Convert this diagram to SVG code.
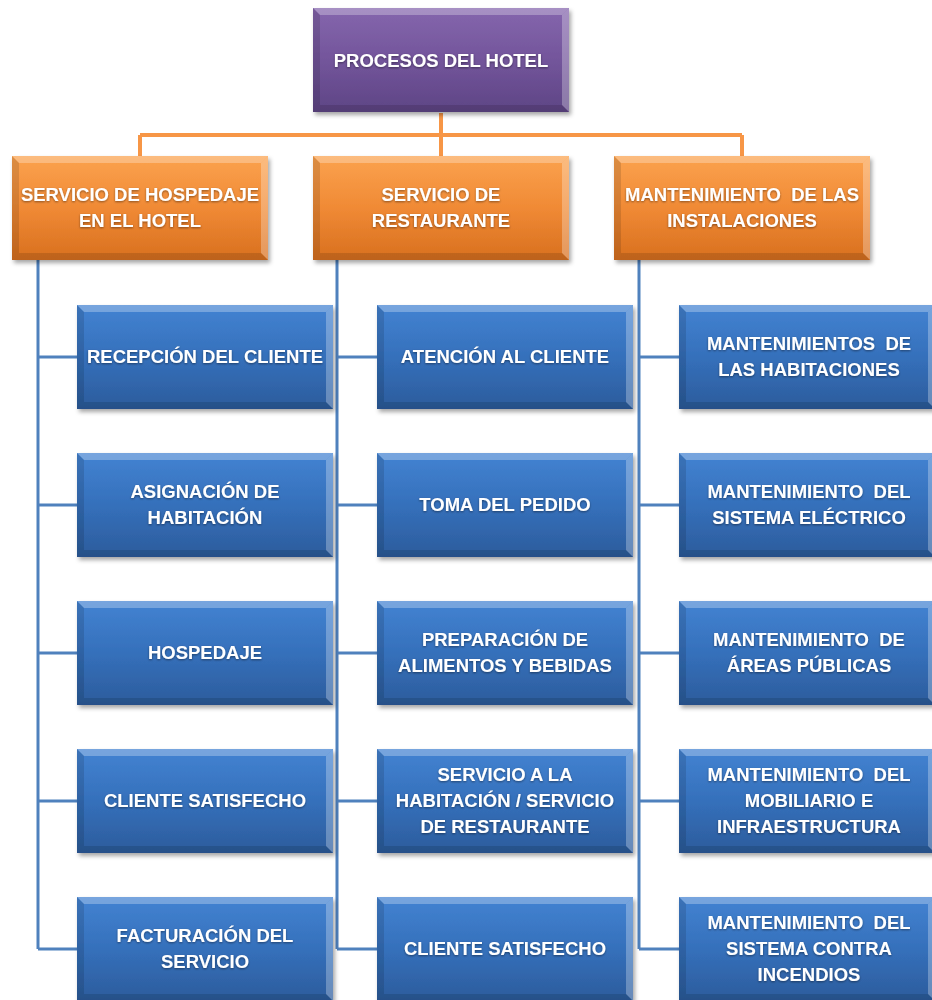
<svg xmlns="http://www.w3.org/2000/svg" xmlns:xlink="http://www.w3.org/1999/xlink" width="932" height="1000" viewBox="0 0 932 1000">
<style>
.t{font-family:"Liberation Sans",Arial,sans-serif;font-weight:bold;font-size:18.5px;fill:#ffffff;text-anchor:middle;filter:url(#glow)}
.oc{fill:none;stroke:#F79646;stroke-width:4}
.bc{fill:none;stroke:#4F81BD;stroke-width:3}
.hl{fill:#ffffff;opacity:0.28}
.dk{fill:#000000;opacity:0.12}
</style>
<defs>
<linearGradient id="gP" x1="0" y1="0" x2="0" y2="1"><stop offset="0" stop-color="#8566ad"/><stop offset="0.5" stop-color="#73559b"/><stop offset="1" stop-color="#5e4585"/></linearGradient>
<linearGradient id="gO" x1="0" y1="0" x2="0" y2="1"><stop offset="0" stop-color="#fba24e"/><stop offset="0.5" stop-color="#f08a35"/><stop offset="1" stop-color="#d8701f"/></linearGradient>
<linearGradient id="gB" x1="0" y1="0" x2="0" y2="1"><stop offset="0" stop-color="#4383d2"/><stop offset="0.5" stop-color="#3570bb"/><stop offset="1" stop-color="#2c5c9c"/></linearGradient>
<filter id="sh" x="-10%" y="-10%" width="125%" height="130%"><feDropShadow dx="2" dy="3" stdDeviation="2" flood-color="#000" flood-opacity="0.35"/></filter>
<filter id="glow" x="-5%" y="-20%" width="110%" height="140%"><feDropShadow dx="0" dy="1" stdDeviation="0.8" flood-color="#000" flood-opacity="0.45"/></filter>
<g id="bev">
<polygon class="hl" points="0,0 256,0 249,7 7,7"/>
<polygon class="hl" points="256,0 256,104 249,97 249,7"/>
<polygon class="dk" points="0,104 256,104 249,97 7,97"/>
<polygon class="dk" points="0,0 7,7 7,97 0,104"/>
</g>
<g id="boxP" filter="url(#sh)"><rect width="256" height="104" fill="url(#gP)"/><use xlink:href="#bev"/></g>
<g id="boxO" filter="url(#sh)"><rect width="256" height="104" fill="url(#gO)"/><use xlink:href="#bev"/></g>
<g id="boxB" filter="url(#sh)"><rect width="256" height="104" fill="url(#gB)"/><use xlink:href="#bev"/></g>
</defs>
<rect width="932" height="1000" fill="#ffffff"/>
<g id="connectors">
<path class="oc" d="M441 113V156M140 135H742M140 135V156M742 135V156"/>
<path class="bc" d="M38 260V949M38 357H77M38 505H77M38 653H77M38 801H77M38 949H77"/>
<path class="bc" d="M337 260V949M337 357H377M337 505H377M337 653H377M337 801H377M337 949H377"/>
<path class="bc" d="M639 260V949M639 357H679M639 505H679M639 653H679M639 801H679M639 949H679"/>
</g>
<g id="n-root"><use xlink:href="#boxP" x="313" y="8"/><text class="t" x="441" y="67">PROCESOS DEL HOTEL</text></g>
<g id="n-hospedaje"><use xlink:href="#boxO" x="12" y="156"/><text class="t" x="140" y="201">SERVICIO DE HOSPEDAJE</text><text class="t" x="140" y="227">EN EL HOTEL</text></g>
<g id="n-restaurante"><use xlink:href="#boxO" x="313" y="156"/><text class="t" x="441" y="201">SERVICIO DE</text><text class="t" x="441" y="227">RESTAURANTE</text></g>
<g id="n-mantenimiento"><use xlink:href="#boxO" x="614" y="156"/><text class="t" x="742" y="201" xml:space="preserve">MANTENIMIENTO  DE LAS</text><text class="t" x="742" y="227">INSTALACIONES</text></g>

<g id="n-l1"><use xlink:href="#boxB" x="77" y="305"/><text class="t" x="205" y="363">RECEPCIÓN DEL CLIENTE</text></g>
<g id="n-l2"><use xlink:href="#boxB" x="77" y="453"/><text class="t" x="205" y="498">ASIGNACIÓN DE</text><text class="t" x="205" y="524">HABITACIÓN</text></g>
<g id="n-l3"><use xlink:href="#boxB" x="77" y="601"/><text class="t" x="205" y="659">HOSPEDAJE</text></g>
<g id="n-l4"><use xlink:href="#boxB" x="77" y="749"/><text class="t" x="205" y="807">CLIENTE SATISFECHO</text></g>
<g id="n-l5"><use xlink:href="#boxB" x="77" y="897"/><text class="t" x="205" y="942">FACTURACIÓN DEL</text><text class="t" x="205" y="968">SERVICIO</text></g>

<g id="n-m1"><use xlink:href="#boxB" x="377" y="305"/><text class="t" x="505" y="363">ATENCIÓN AL CLIENTE</text></g>
<g id="n-m2"><use xlink:href="#boxB" x="377" y="453"/><text class="t" x="505" y="511">TOMA DEL PEDIDO</text></g>
<g id="n-m3"><use xlink:href="#boxB" x="377" y="601"/><text class="t" x="505" y="646">PREPARACIÓN DE</text><text class="t" x="505" y="672">ALIMENTOS Y BEBIDAS</text></g>
<g id="n-m4"><use xlink:href="#boxB" x="377" y="749"/><text class="t" x="505" y="781">SERVICIO A LA</text><text class="t" x="505" y="807">HABITACIÓN / SERVICIO</text><text class="t" x="505" y="833">DE RESTAURANTE</text></g>
<g id="n-m5"><use xlink:href="#boxB" x="377" y="897"/><text class="t" x="505" y="955">CLIENTE SATISFECHO</text></g>

<g id="n-r1"><use xlink:href="#boxB" x="679" y="305"/><text class="t" x="809" y="350" xml:space="preserve">MANTENIMIENTOS  DE</text><text class="t" x="809" y="376">LAS HABITACIONES</text></g>
<g id="n-r2"><use xlink:href="#boxB" x="679" y="453"/><text class="t" x="809" y="498" xml:space="preserve">MANTENIMIENTO  DEL</text><text class="t" x="809" y="524">SISTEMA ELÉCTRICO</text></g>
<g id="n-r3"><use xlink:href="#boxB" x="679" y="601"/><text class="t" x="809" y="646" xml:space="preserve">MANTENIMIENTO  DE</text><text class="t" x="809" y="672">ÁREAS PÚBLICAS</text></g>
<g id="n-r4"><use xlink:href="#boxB" x="679" y="749"/><text class="t" x="809" y="781" xml:space="preserve">MANTENIMIENTO  DEL</text><text class="t" x="809" y="807">MOBILIARIO E</text><text class="t" x="809" y="833">INFRAESTRUCTURA</text></g>
<g id="n-r5"><use xlink:href="#boxB" x="679" y="897"/><text class="t" x="809" y="929" xml:space="preserve">MANTENIMIENTO  DEL</text><text class="t" x="809" y="955">SISTEMA CONTRA</text><text class="t" x="809" y="981">INCENDIOS</text></g>
</svg>
